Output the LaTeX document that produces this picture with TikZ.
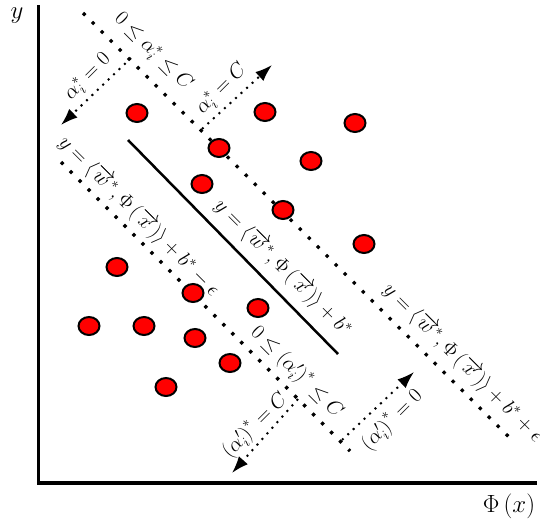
\documentclass[tikz,border=0pt]{standalone}
\usepackage{amsmath}
\usetikzlibrary{arrows.meta,shapes.geometric}
\begin{document}
\begin{tikzpicture}[x=1pt,y=-1pt,
  pt/.style={ellipse,draw=black,fill=red,line width=2pt,minimum width=21pt,minimum height=18pt,inner sep=0pt},
  bigdots/.style={line width=3.2pt,dash pattern=on 3.2pt off 9.5pt},
  smalldots/.style={line width=2pt,dash pattern=on 2pt off 5.5pt,-{Latex[length=17pt,width=12pt]}},
  axisline/.style={line width=3.5pt},
  lbl/.style={font=\fontsize{22}{26}\selectfont,inner sep=0pt},
  axlbl/.style={font=\fontsize{26}{30}\selectfont,inner sep=0pt}]
\useasboundingbox (0,0) rectangle (540,522);
% axes
\coordinate (o) at (38.5,483);
\coordinate (ytop) at (38.5,5);
\coordinate (xend) at (537,483);
\draw[axisline] (ytop) -- (o) -- (xend);
\node[axlbl] (ylab) at (17,16) {$y$};
\node[axlbl] (xlab) at (509,506) {$\Phi\left(x\right)$};
% lines
\coordinate (u1) at (83,13); \coordinate (u2) at (510,438);
\coordinate (l1) at (61,162); \coordinate (l2) at (350,451);
\coordinate (m1) at (128,140); \coordinate (m2) at (338,354);
\draw[bigdots] (u1) -- (u2);
\draw[bigdots] (l1) -- (l2);
\draw[line width=2.5pt] (m1) -- (m2);
% arrows
\coordinate (a1s) at (131,58); \coordinate (a1e) at (61,125);
\coordinate (a2s) at (202,129); \coordinate (a2e) at (272,65);
\coordinate (a3s) at (298,399); \coordinate (a3e) at (232,473);
\coordinate (a4s) at (342,440); \coordinate (a4e) at (414,372);
\draw[smalldots] (a1s) -- (a1e);
\draw[smalldots] (a2s) -- (a2e);
\draw[smalldots] (a3s) -- (a3e);
\draw[smalldots] (a4s) -- (a4e);
% points
\node[pt] (p1) at (137,113) {};
\node[pt] (p2) at (265,112) {};
\node[pt] (p3) at (355,123) {};
\node[pt] (p4) at (219,148) {};
\node[pt] (p5) at (311,161) {};
\node[pt] (p6) at (202,184) {};
\node[pt] (p7) at (283,210) {};
\node[pt] (p8) at (364,244) {};
\node[pt] (p9) at (117,267) {};
\node[pt] (p10) at (193,293) {};
\node[pt] (p11) at (258,308) {};
\node[pt] (p12) at (89,326) {};
\node[pt] (p13) at (144,326) {};
\node[pt] (p14) at (195,338) {};
\node[pt] (p15) at (230,363) {};
\node[pt] (p16) at (166,387) {};
% labels
\node[lbl,rotate=-45] (tu) at (463,363) {$y=\left\langle \overrightarrow{w}^{*},\Phi\left(\overrightarrow{x}\right)\right\rangle +b^{*}+\epsilon$};
\node[lbl,rotate=-45] (tm) at (283,268) {$y=\left\langle \overrightarrow{w}^{*},\Phi\left(\overrightarrow{x}\right)\right\rangle +b^{*}$};
\node[lbl,rotate=-45] (tl) at (139,216) {$y=\left\langle \overrightarrow{w}^{*},\Phi\left(\overrightarrow{x}\right)\right\rangle +b^{*}-\epsilon$};
\node[lbl,rotate=-45] (tc1) at (153,52) {$0\leq\alpha_{i}^{*}\leq C$};
\node[lbl,rotate=-45] (tc2) at (297,372) {$0\leq\left(\alpha'_{i}\right)^{*}\leq C$};
\node[lbl,rotate=45] (ta1) at (88,77) {$\alpha_{i}^{*}=0$};
\node[lbl,rotate=45] (ta2) at (222,89) {$\alpha_{i}^{*}=C$};
\node[lbl,rotate=45] (ta3) at (255,425) {$\left(\alpha'_{i}\right)^{*}=C$};
\node[lbl,rotate=45] (ta4) at (392,420) {$\left(\alpha'_{i}\right)^{*}=0$};
\end{tikzpicture}
\end{document}
